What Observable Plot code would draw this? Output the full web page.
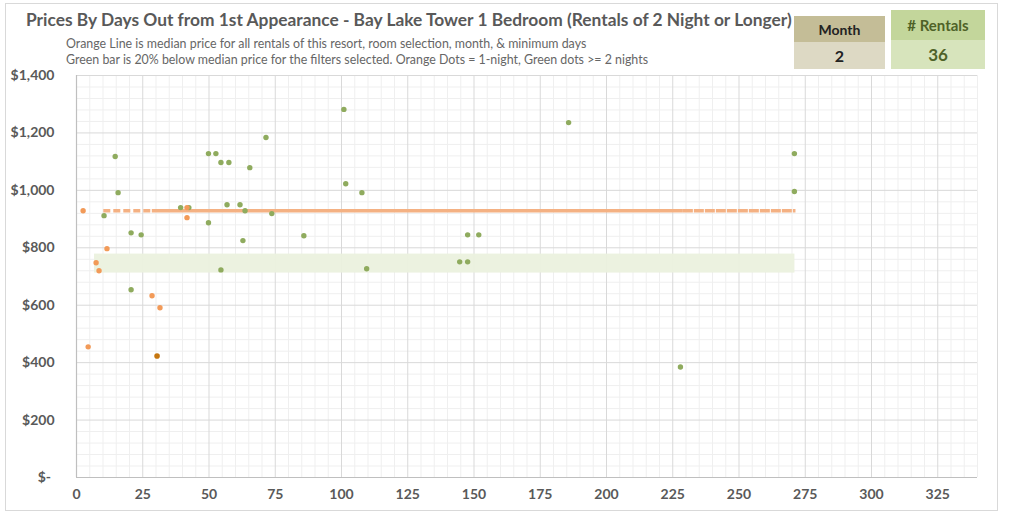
<!DOCTYPE html>
<html>
<head>
<meta charset="utf-8">
<script src="https://cdn.jsdelivr.net/npm/d3@7"></script>
<script src="https://cdn.jsdelivr.net/npm/@observablehq/plot@0.6"></script>
<style>
  html, body { margin: 0; padding: 0; background: #fff; }
  #wrap { position: relative; width: 1009px; height: 520px; font-family: Lato, "Open Sans", sans-serif; overflow: hidden; }
  #frame { position: absolute; left: 5px; top: 3px; width: 993px; height: 508px; border: 1px solid #d9d9d9; box-sizing: border-box; pointer-events: none; }
  #title { position: absolute; left: 26px; top: 9px; font-size: 17.35px; font-weight: bold; color: #595959; white-space: nowrap; }
  .sub { position: absolute; left: 66px; font-size: 12.4px; color: #666; white-space: nowrap; }
  .box { position: absolute; text-align: center; font-weight: bold; }
  .box .h, .box .v { display: flex; align-items: center; justify-content: center; }
  #chart { position: absolute; left: 0; top: 0; }
</style>
</head>
<body>
<div id="wrap">
  <div id="chart"></div>
  <div id="frame"></div>
  <div id="title"></div>
  <div class="sub" id="sub1" style="top:36px"></div>
  <div class="sub" id="sub2" style="top:52px"></div>
  <div class="box" style="left:794px; top:16px; width:91px;">
    <div class="h" id="mh" style="height:26px; background:#c4bd97; color:#222; font-size:14px;"></div>
    <div class="v" id="mv" style="height:27px; background:#ddd9c4; color:#222; font-size:16px;"></div>
  </div>
  <div class="box" style="left:891px; top:10px; width:94px;">
    <div class="h" id="rh" style="height:30px; background:#c3d69b; color:#4f6228; font-size:15px;"></div>
    <div class="v" id="rv" style="height:29px; background:#d7e4bc; color:#4f6228; font-size:17px;"></div>
  </div>
</div>
<script>
// ---- Text ----
const titleText = "Prices By Days Out from 1st Appearance - Bay Lake Tower 1 Bedroom (Rentals of 2 Night or Longer)";
const subtitle1 = "Orange Line is median price for all rentals of this resort, room selection, month, & minimum days";
const subtitle2 = "Green bar is 20% below median price for the filters selected. Orange Dots = 1-night, Green dots >= 2 nights";
const monthLabel = "Month", monthValue = "2";
const rentalsLabel = "# Rentals", rentalsValue = "36";

// ---- Ticks ----
const xTicks = [0, 25, 50, 75, 100, 125, 150, 175, 200, 225, 250, 275, 300, 325];
const yTicks = [0, 200, 400, 600, 800, 1000, 1200, 1400];

// ---- Data: days out, price ----
const oneNightDays   = [2.5, 41.7, 41.7, 11.5, 7.4, 8.5, 28.5, 31.5, 4.4];
const oneNightPrices = [929, 940, 905, 797, 748, 720, 633, 591, 455];
const overlapDays    = [30.4];
const overlapPrices  = [423];
const multiNightDays   = [14.6, 15.7, 10.4, 39.3, 42.4, 49.8, 52.6, 54.5, 57.5, 65.4, 71.5, 56.8, 61.7, 63.6, 73.7, 49.8, 20.6, 24.4, 62.8, 85.8, 54.5, 20.6, 100.9, 101.6, 107.7, 147.6, 151.8, 144.6, 147.6, 109.5, 185.7, 270.9, 270.9, 227.9];
const multiNightPrices = [1118, 992, 912, 940, 940, 1128, 1128, 1097, 1097, 1079, 1184, 950, 950, 929, 919, 887, 852, 845, 825, 842, 723, 654, 1282, 1023, 992, 845, 845, 751, 751, 727, 1236, 1128, 996, 385];

// median line (segments: dashed, solid, dashed)
const medianPrice = 929;
const medianSegStart = [10.3, 28.6, 229];
const medianSegEnd   = [28.6, 229, 271.5];
const medianSegDash  = ["7,3", null, "10,1"];
// green band (20% below median)
const bandStart = 6.8, bandEnd = 271.1;
const bandLow = 712, bandHigh = 778;

document.getElementById("title").textContent = titleText;
document.getElementById("sub1").textContent = subtitle1;
document.getElementById("sub2").textContent = subtitle2;
document.getElementById("mh").textContent = monthLabel;
document.getElementById("mv").textContent = monthValue;
document.getElementById("rh").textContent = rentalsLabel;
document.getElementById("rv").textContent = rentalsValue;

const toPts = (xs, ys) => xs.map((d, i) => ({day: d, price: ys[i]}));
const oneNight = toPts(oneNightDays, oneNightPrices);
const overlap = toPts(overlapDays, overlapPrices);
const multiNight = toPts(multiNightDays, multiNightPrices);
const segs = medianSegStart.map((s, i) => ({x1: s, x2: medianSegEnd[i], dash: medianSegDash[i]}));

const minorX = d3.range(0, 341, 5).filter(v => v % 25 !== 0);
const majorX = d3.range(25, 341, 25);
const minorY = d3.range(0, 1401, 40).filter(v => v % 200 !== 0);
const majorY = d3.range(200, 1401, 200);

const fmtY = d => d === 0 ? "$-\u00a0" : "$" + d3.format(",")(d);

const plot = Plot.plot({
  width: 1009,
  height: 520,
  marginLeft: 76,
  marginRight: 32,
  marginTop: 75,
  marginBottom: 43,
  x: {domain: [0, 340]},
  y: {domain: [0, 1400]},
  style: {fontFamily: "Lato, 'Open Sans', sans-serif", color: "#595959", background: "transparent"},
  marks: [
    Plot.ruleX(minorX, {stroke: "#efefef", strokeWidth: 1}),
    Plot.ruleY(minorY, {stroke: "#efefef", strokeWidth: 1}),
    Plot.ruleX(majorX, {stroke: "#d9d9d9", strokeWidth: 1}),
    Plot.ruleY(majorY, {stroke: "#d9d9d9", strokeWidth: 1}),
    Plot.ruleX([0], {stroke: "#bfbfbf", strokeWidth: 1.2}),
    Plot.ruleY([0], {stroke: "#bfbfbf", strokeWidth: 1.2}),
    Plot.rect([{x1: bandStart, x2: bandEnd, y1: bandLow, y2: bandHigh}], {x1: "x1", x2: "x2", y1: "y1", y2: "y2", fill: "#ebf1de", fillOpacity: 0.95}),
    ...segs.map(s => Plot.ruleY([medianPrice], {x1: s.x1, x2: s.x2, stroke: "#f4b183", strokeWidth: 3.5, strokeDasharray: s.dash || undefined})),
    Plot.dot(multiNight, {x: "day", y: "price", r: 2.7, fill: "#8fab5e"}),
    Plot.dot(oneNight, {x: "day", y: "price", r: 2.7, fill: "#f29a58"}),
    Plot.dot(overlap, {x: "day", y: "price", r: 2.8, fill: "#c5760f"}),
    Plot.axisX(xTicks, {tickSize: 0, tickPadding: 12, fontSize: 14, fontWeight: "bold", label: null}),
    Plot.axisY(yTicks, {tickSize: 0, tickPadding: 22, fontSize: 14, fontWeight: "bold", tickFormat: fmtY, label: null})
  ]
});
document.getElementById("chart").appendChild(plot);
</script>
</body>
</html>
